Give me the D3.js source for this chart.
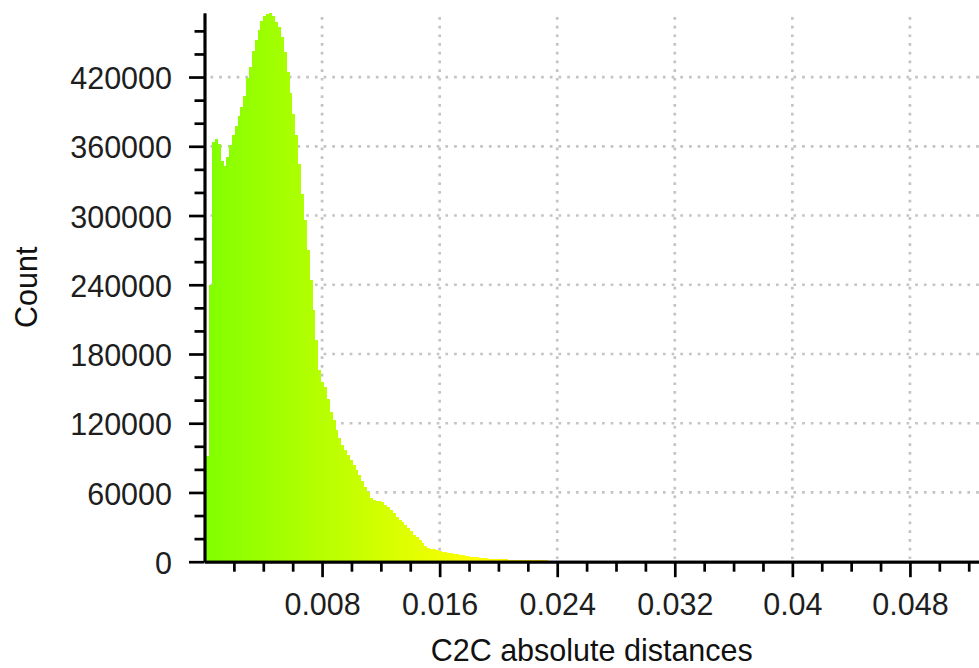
<!DOCTYPE html>
<html>
<head>
<meta charset="utf-8">
<script src="https://cdnjs.cloudflare.com/ajax/libs/d3/7.8.5/d3.min.js"></script>
<style>
  body { margin: 0; background: #fff; }
  svg { display: block; font-family: "Liberation Sans", Arial, sans-serif; }
  .grid line { stroke: #c4c4c4; stroke-width: 2.7; stroke-dasharray: 2.7 6; }
  .axis path, .axis line { stroke: #000; stroke-width: 2.7; }
  .axis text { fill: #1e1e1e; font-size: 30.5px; font-family: "Liberation Sans", Arial, sans-serif; }
  .title { fill: #111; font-size: 30.5px; }
  .bars rect { shape-rendering: crispEdges; }
</style>
</head>
<body>
<div class="container"></div>
<script>
const WIDTH = 979,
      HEIGHT = 668;

// histogram: 256 classes over [0, 0.05]
const BIN_WIDTH = 0.05 / 256;
const counts = [
  92000, 92000, 240000, 364000, 366000, 362000, 347000, 343000, 351000, 361000,
  370000, 378000, 386000, 394000, 404000, 419000, 429000, 443000, 452000, 461000,
  469000, 473000, 475000, 475500, 473000, 468000, 463000, 455000, 442000, 424000,
  406000, 388000, 370000, 345000, 319000, 296000, 270000, 244000, 218000, 192000,
  166000, 156000, 151000, 141000, 130000, 123000, 114000, 107000, 101000, 97000,
  92500, 88000, 84000, 79500, 75000, 70000, 64500, 60000, 55500, 53500,
  53000, 52500, 51500, 49500, 47000, 44500, 42000, 39000, 36500, 34000,
  31500, 29000, 26500, 23500, 21000, 18500, 16000, 13500, 12000, 11200,
  10600, 10000, 9400, 8800, 8300, 7800, 7300, 6800, 6300, 5900,
  5500, 5100, 4700, 4400, 4000, 3700, 3400, 3100, 2900, 2700,
  2500, 2300, 2200, 2100, 2050, 2000, 1900, 1800, 1750, 1650,
  1600, 1550, 1500, 1400, 1350, 1300, 1250, 1200, 1100, 1050,
  1000, 960, 920, 880, 840, 800, 760, 720, 680, 640,
  600, 580, 560, 540, 520, 500, 480, 460, 440, 420,
  400, 390, 380, 370, 360, 350, 340, 330, 320, 310,
  300, 290, 280, 270, 260, 255, 250, 240, 235, 230,
  220, 215, 210, 205, 200, 190, 185, 180, 170, 165,
  160, 155, 150, 145, 140, 135, 130, 128, 125, 122,
  120, 116, 112, 108, 104, 100, 98, 95, 92, 90,
  88, 86, 84, 82, 80, 78, 76, 74, 72, 70,
  68, 66, 64, 62, 60, 58, 56, 54, 52, 50,
  49, 48, 46, 45, 44, 42, 41, 40, 39, 38,
  36, 35, 34, 33, 32, 31, 30, 29, 28, 27,
  26, 25, 24, 23, 22, 21, 20, 19, 18, 17,
  16, 15, 14, 13, 12, 11, 10, 9, 8, 7,
  6, 5, 4, 3, 2, 1
];

const xTicks = [0.008, 0.016, 0.024, 0.032, 0.04, 0.048];
const xTickLabels = ['0.008', '0.016', '0.024', '0.032', '0.04', '0.048'];
const yTicks = [0, 60000, 120000, 180000, 240000, 300000, 360000, 420000];

const X_AXIS_TITLE = 'C2C absolute distances',
      Y_AXIS_TITLE = 'Count';

const plot = {left: 204.5, right: 979, top: 13, bottom: 561.7};

var x = d3.scaleLinear().domain([0, 0.0527]).range([plot.left, plot.right]);
var y = d3.scaleLinear().domain([0, 475500]).range([plot.bottom, plot.top]);
var color = d3.scaleLinear().domain([0, 0.0185, 0.0555]).range(['#80ff00', '#ffff00', '#ff0000']);

var svg = d3.select('.container').append('svg');
svg.attr('width', WIDTH).attr('height', HEIGHT);

svg.append('clipPath').attr('id', 'clip')
  .append('rect')
  .attr('x', plot.left).attr('y', 0)
  .attr('width', plot.right - plot.left).attr('height', plot.bottom);

// dotted grid behind the bars
var grid = svg.append('g').classed('grid', true);
grid.selectAll('line.v').data(xTicks).enter().append('line')
  .attr('x1', d => x(d)).attr('x2', d => x(d))
  .attr('y1', plot.top + 4).attr('y2', plot.bottom);
grid.selectAll('line.h').data(yTicks.filter(d => d > 0)).enter().append('line')
  .attr('y1', d => y(d)).attr('y2', d => y(d))
  .attr('x1', plot.left + 6).attr('x2', plot.right);

// bars, centred on the class value
svg.append('g').classed('bars', true).attr('clip-path', 'url(#clip)')
  .selectAll('rect').data(counts).enter().append('rect')
  .attr('x', (d, i) => x(i * BIN_WIDTH - BIN_WIDTH / 2))
  .attr('width', x(BIN_WIDTH) - x(0) + 0.4)
  .attr('y', d => y(d))
  .attr('height', d => y(0) - y(d))
  .attr('fill', (d, i) => color(i * BIN_WIDTH));

// axes: minor ticks first, then major ticks with labels
var xMinor = d3.range(1, 27).map(i => i * 0.002).filter(v => Math.abs(v / 0.008 - Math.round(v / 0.008)) > 1e-6);
var yMinor = d3.range(1, 24).map(i => i * 20000).filter(v => v % 60000 !== 0);

svg.append('g').classed('axis', true)
  .attr('transform', `translate(0,${plot.bottom})`)
  .call(d3.axisBottom(x).tickValues(xMinor).tickSize(10).tickSizeOuter(0).tickFormat(''));
svg.append('g').classed('axis', true)
  .attr('transform', `translate(0,${plot.bottom})`)
  .call(d3.axisBottom(x).tickValues(xTicks).tickSize(15.5).tickSizeOuter(0).tickPadding(16)
    .tickFormat((d, i) => xTickLabels[i]));

svg.append('g').classed('axis', true)
  .attr('transform', `translate(${plot.left},0)`)
  .call(d3.axisLeft(y).tickValues(yMinor).tickSize(10).tickSizeOuter(0).tickFormat(''));
var yAxis = svg.append('g').classed('axis', true)
  .attr('transform', `translate(${plot.left},0)`)
  .call(d3.axisLeft(y).tickValues(yTicks).tickSize(15.5).tickSizeOuter(0).tickPadding(17)
    .tickFormat(d3.format('d')));
yAxis.selectAll('text').attr('dy', '0.38em');

svg.selectAll('.axis .domain').attr('stroke-width', 2.7);

// titles
svg.append('text').classed('title', true)
  .attr('x', (plot.left + plot.right) / 2).attr('y', 660.5)
  .attr('text-anchor', 'middle')
  .text(X_AXIS_TITLE);

svg.append('text').classed('title', true)
  .attr('transform', `translate(37,${(plot.top + plot.bottom) / 2}) rotate(-90)`)
  .attr('text-anchor', 'middle')
  .text(Y_AXIS_TITLE);
</script>
</body>
</html>
